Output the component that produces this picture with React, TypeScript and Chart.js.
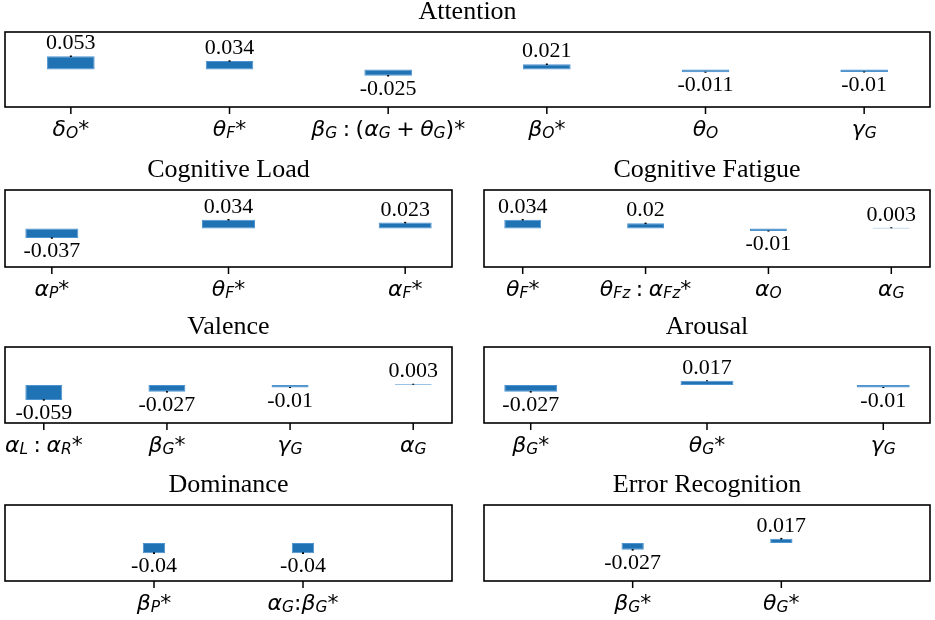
import { useEffect, useRef } from 'react';
import { Chart, registerables } from 'chart.js';

Chart.register(...registerables);

// Attention
const attentionLabels = ['δ_O*', 'θ_F*', 'β_G : (α_G + θ_G)*', 'β_O*', 'θ_O', 'γ_G'];
const attentionValues = [0.053, 0.034, -0.025, 0.021, -0.011, -0.01];
const attentionErrors = [0.003, 0.003, 0.003, 0.003, 0.002, 0.002];

// Cognitive Load
const loadLabels = ['α_P*', 'θ_F*', 'α_F*'];
const loadValues = [-0.037, 0.034, 0.023];
const loadErrors = [0.003, 0.003, 0.003];

// Cognitive Fatigue
const fatigueLabels = ['θ_F*', 'θ_{Fz} : α_{Fz}*', 'α_O', 'α_G'];
const fatigueValues = [0.034, 0.02, -0.01, 0.003];
const fatigueErrors = [0.003, 0.003, 0.002, 0.002];

// Valence
const valenceLabels = ['α_L : α_R*', 'β_G*', 'γ_G', 'α_G'];
const valenceValues = [-0.059, -0.027, -0.01, 0.003];
const valenceErrors = [0.003, 0.003, 0.002, 0.002];

// Arousal
const arousalLabels = ['β_G*', 'θ_G*', 'γ_G'];
const arousalValues = [-0.027, 0.017, -0.01];
const arousalErrors = [0.003, 0.002, 0.002];

// Dominance
const dominanceLabels = ['β_P*', 'α_G:β_G*'];
const dominanceValues = [-0.04, -0.04];
const dominanceErrors = [0.003, 0.003];

// Error Recognition
const errorLabels = ['β_G*', 'θ_G*'];
const errorValues = [-0.027, 0.017];
const errorErrors = [0.003, 0.003];

const Y_MIN = -0.15;
const Y_MAX = 0.15;

interface PanelDef {
  title: string;
  labels: string[];
  values: number[];
  errors: number[];
  frame: [number, number, number, number]; // left, top, right, bottom
  barWidth: number;
  xMin?: number;
  xMax?: number;
}

const panels: PanelDef[] = [
  { title: 'Attention', labels: attentionLabels, values: attentionValues, errors: attentionErrors, frame: [5, 32, 930, 107], barWidth: 0.3 },
  { title: 'Cognitive Load', labels: loadLabels, values: loadValues, errors: loadErrors, frame: [5, 190, 452, 267], barWidth: 0.3 },
  { title: 'Cognitive Fatigue', labels: fatigueLabels, values: fatigueValues, errors: fatigueErrors, frame: [484, 190, 930, 267], barWidth: 0.3 },
  { title: 'Valence', labels: valenceLabels, values: valenceValues, errors: valenceErrors, frame: [5, 347, 452, 423], barWidth: 0.3 },
  { title: 'Arousal', labels: arousalLabels, values: arousalValues, errors: arousalErrors, frame: [484, 347, 930, 423], barWidth: 0.3 },
  { title: 'Dominance', labels: dominanceLabels, values: dominanceValues, errors: dominanceErrors, frame: [5, 505, 452, 581], barWidth: 0.15, xMin: -1, xMax: 2 },
  { title: 'Error Recognition', labels: errorLabels, values: errorValues, errors: errorErrors, frame: [484, 505, 930, 581], barWidth: 0.15, xMin: -1, xMax: 2 },
];

const MAIN = 22;
const SUB = 15.5;

// split "α_{Fz}" style labels into normal / subscript runs
function parseLabel(s: string) {
  const out: { text: string; sub: boolean }[] = [];
  let i = 0;
  while (i < s.length) {
    if (s[i] === '_') {
      if (s[i + 1] === '{') {
        const end = s.indexOf('}', i);
        out.push({ text: s.slice(i + 2, end), sub: true });
        i = end + 1;
      } else {
        out.push({ text: s[i + 1], sub: true });
        i += 2;
      }
    } else {
      out.push({ text: s[i], sub: false });
      i += 1;
    }
  }
  return out;
}

const isLetter = (c: string) => /[A-Za-z\u0391-\u03c9]/.test(c);

function drawMathLabel(ctx: CanvasRenderingContext2D, label: string, cx: number, baseY: number) {
  const chars: { c: string; font: string; dy: number; w: number }[] = [];
  parseLabel(label).forEach(run => {
    for (const c of run.text) {
      const size = run.sub ? SUB : MAIN;
      const font = `${isLetter(c) ? 'italic ' : ''}${size}px "DejaVu Sans"`;
      ctx.font = font;
      const w = c === ' ' ? MAIN * 0.25 : ctx.measureText(c).width;
      chars.push({ c, font, dy: run.sub ? 2 : 0, w });
    }
  });
  const total = chars.reduce((s, ch) => s + ch.w, 0);
  let x = cx - total / 2;
  ctx.textAlign = 'left';
  ctx.textBaseline = 'alphabetic';
  chars.forEach(ch => {
    if (ch.c !== ' ') {
      ctx.font = ch.font;
      ctx.fillText(ch.c, x, baseY + ch.dy);
    }
    x += ch.w;
  });
}

const makeDecor = (p: PanelDef) => ({
  id: 'panelDecor',
  afterDatasetsDraw(chart: Chart) {
    const { ctx, chartArea: a, scales } = chart;
    const xs = scales.x;
    const ys = scales.y;
    ctx.save();
    ctx.strokeStyle = '#000';
    ctx.fillStyle = '#000';

    // frame
    ctx.lineWidth = 1.6;
    ctx.strokeRect(a.left, a.top, a.right - a.left, a.bottom - a.top);

    // error bars
    ctx.lineWidth = 2;
    p.values.forEach((v, i) => {
      const x = xs.getPixelForValue(i);
      ctx.beginPath();
      ctx.moveTo(x, ys.getPixelForValue(v - p.errors[i]));
      ctx.lineTo(x, ys.getPixelForValue(v + p.errors[i]));
      ctx.stroke();
    });

    // value labels
    ctx.font = '22px "Liberation Serif"';
    ctx.textAlign = 'center';
    ctx.textBaseline = 'alphabetic';
    p.values.forEach((v, i) => {
      const x = xs.getPixelForValue(i);
      const y = ys.getPixelForValue(v);
      ctx.fillText(String(v), x, v >= 0 ? y - 7 : y + 19);
    });

    // x ticks + math labels
    ctx.lineWidth = 1.5;
    p.labels.forEach((l, i) => {
      const x = xs.getPixelForValue(i);
      ctx.beginPath();
      ctx.moveTo(x, a.bottom);
      ctx.lineTo(x, a.bottom + 7);
      ctx.stroke();
      drawMathLabel(ctx, l, x, a.bottom + 29);
    });

    // title
    ctx.font = '26px "Liberation Serif"';
    ctx.textAlign = 'center';
    ctx.textBaseline = 'alphabetic';
    ctx.fillText(p.title, (a.left + a.right) / 2, a.top - 13);
    ctx.restore();
  },
});

const Panel = ({ p }: { p: PanelDef }) => {
  const canvasRef = useRef<HTMLCanvasElement>(null);
  const [left, top, right, bottom] = p.frame;
  const w = right - left + 10;
  const h = bottom - top + 72;

  useEffect(() => {
    if (!canvasRef.current) return;
    const n = p.values.length;
    const pad = 0.05 * (n - 1 + p.barWidth);
    const xMin = p.xMin ?? -p.barWidth / 2 - pad;
    const xMax = p.xMax ?? n - 1 + p.barWidth / 2 + pad;

    const chart = new Chart(canvasRef.current, {
      type: 'bar',
      data: {
        datasets: [{
          data: p.values.map((v, i) => ({ x: i, y: v })),
          backgroundColor: '#1f72b3',
          borderColor: '#4d93cf',
          borderWidth: 1,
          borderSkipped: false,
          barPercentage: p.barWidth,
          categoryPercentage: 1,
        }],
      },
      options: {
        responsive: false,
        animation: false,
        layout: { padding: { left: 5, right: 5, top: 32, bottom: 40 } },
        plugins: { legend: { display: false }, tooltip: { enabled: false } },
        scales: {
          x: {
            type: 'linear',
            min: xMin,
            max: xMax,
            offset: false,
            display: false,
            // one tick per category so the bar ruler uses the category spacing
            afterBuildTicks: (scale: any) => {
              scale.ticks = p.labels.map((_, i) => ({ value: i }));
            },
          },
          y: { type: 'linear', min: Y_MIN, max: Y_MAX, display: false },
        },
      },
      plugins: [makeDecor(p)],
    });
    return () => chart.destroy();
  }, [p]);

  return (
    <canvas
      ref={canvasRef}
      width={w}
      height={h}
      style={{ position: 'absolute', left: left - 5, top: top - 32, width: w, height: h }}
    />
  );
};

export default function App() {
  return (
    <>
      <style>{'body{margin:0;background:#fff}'}</style>
      <div style={{ position: 'relative', width: 935, height: 620, overflow: 'hidden', background: '#fff' }}>
        {panels.map(p => <Panel key={p.title} p={p} />)}
      </div>
    </>
  );
}
